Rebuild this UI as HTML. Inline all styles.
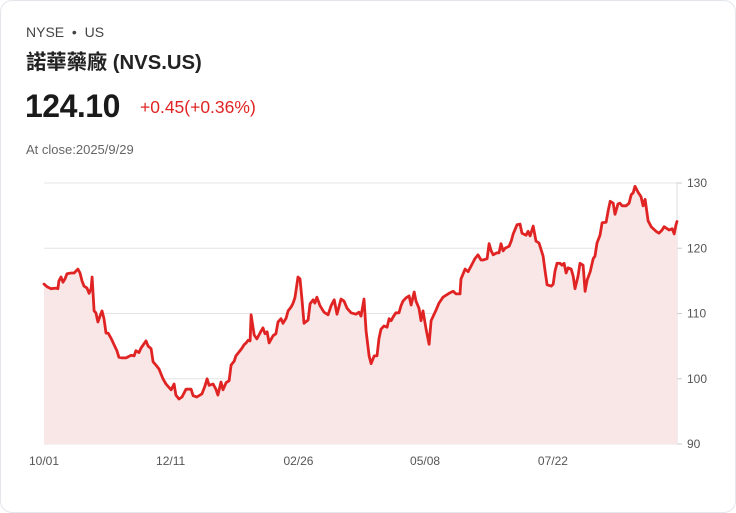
<!DOCTYPE html>
<html><head><meta charset="utf-8"><style>
body{margin:0;background:#fff;font-family:"Liberation Sans","Noto Sans CJK TC",sans-serif;}
.card{position:absolute;left:0;top:0;width:734px;height:511px;border:1px solid #e3e6ea;border-radius:12px;background:#fff;}
.t{position:absolute;white-space:nowrap;}
</style></head><body>
<div class="card">
<div class="t" style="left:25px;top:23px;font-size:14px;color:#444;">NYSE &nbsp;•&nbsp; US</div>
<div class="t" style="left:25px;top:44px;font-size:20.3px;font-weight:bold;color:#222;">諾華藥廠 (NVS.US)</div>
<div class="t" style="left:24px;top:87px;font-size:32px;font-weight:bold;color:#1a1a1a;letter-spacing:-0.5px;">124.10</div>
<div class="t" style="left:139px;top:96px;font-size:17.5px;color:#e02424;">+0.45(+0.36%)</div>
<div class="t" style="left:25px;top:141px;font-size:13px;color:#666;">At close:2025/9/29</div>
<svg id="chart" width="736" height="513" style="position:absolute;left:-1px;top:-1px;"></svg>
</div>
<script>
const days=[0,1.2,2.8,4.7,5.5,5.9,6.7,7.5,8.3,9.1,10.7,11.9,12.6,13.4,14.2,15.0,15.8,17.0,17.8,18.6,19.0,19.8,20.5,21.3,22.1,22.9,23.7,24.5,25.3,26.5,27.7,28.8,29.6,30.8,32.4,34.4,35.6,36.3,37.5,38.3,40.3,41.1,42.3,43.1,44.2,45.4,47.0,48.2,50.2,51.4,52.1,53.3,54.5,56.1,58.1,58.9,60.4,62.4,63.6,64.4,65.2,66.8,67.9,68.7,69.9,70.7,71.9,73.1,73.9,75.1,75.8,77.0,78.2,79.0,79.8,80.6,81.4,81.8,83.0,84.1,85.7,86.5,87.3,88.1,88.9,90.5,91.6,92.4,93.6,94.4,95.6,96.4,97.6,98.4,99.1,99.5,100.3,101.1,101.9,102.7,104.3,105.1,106.3,107.0,107.8,109.0,110.6,112.2,113.4,114.6,115.7,117.3,118.5,119.7,121.3,123.2,124.4,125.2,126.4,127.2,128.4,129.2,130.4,131.5,132.3,133.1,134.3,135.5,136.3,137.1,137.9,139.0,140.2,141.0,141.8,143.0,144.2,145.0,146.2,146.9,148.1,148.9,149.7,150.9,152.1,152.9,154.8,156.0,157.6,158.8,160.0,161.6,162.7,164.3,164.7,166.3,167.5,169.5,170.2,171.4,172.6,173.4,175.0,175.8,176.6,177.4,178.9,179.7,180.5,181.3,182.1,183.7,184.5,185.3,186.8,188.0,188.8,190.4,191.2,192.0,193.2,194.3,195.5,197.1,197.9,198.7,200.3,201.1,201.8,202.6,203.8,204.6,205.4,206.2,207.0,208.2,209.0,209.7,210.9,211.7,212.9,213.7,214.5,215.7,216.9,217.6,218.4,219.6,220.4,222.0,222.8,223.6,224.8,225.5,226.7,227.5,228.3,229.9,231.1,231.9,232.7,233.4,234.6,235.8,236.6,237.4,238.6,239.8,241.7,242.9,244.1,244.9,246.1,246.9,248.1,248.9,249.6,250.0];
const prices=[114.5,114.1,113.8,113.9,113.8,115.0,115.6,114.8,115.3,116.1,116.2,116.2,116.5,116.8,116.2,115.0,114.2,113.9,113.1,113.8,115.6,110.4,110.1,108.7,109.6,110.4,109.2,107.0,107.0,106.2,105.2,104.3,103.3,103.2,103.2,103.6,103.5,104.3,104.0,104.7,105.8,105.0,104.6,102.6,102.1,101.5,100.0,99.2,98.3,99.2,97.5,96.9,97.2,98.4,98.4,97.4,97.2,97.7,98.9,100.0,99.0,99.2,98.4,97.5,99.5,98.3,99.4,99.7,102.1,102.7,103.5,104.1,104.7,105.2,105.5,105.9,105.8,109.8,106.7,106.1,107.3,107.8,106.9,107.2,105.5,106.6,106.9,108.7,109.2,108.5,109.3,110.4,111.0,111.6,112.4,113.4,115.6,115.3,112.1,108.5,109.0,111.5,112.1,111.6,112.5,111.2,110.2,109.8,111.2,112.1,109.9,112.2,111.9,110.8,110.1,109.9,110.2,109.6,112.2,107.3,103.5,102.3,103.5,103.5,106.2,107.6,108.1,107.9,109.2,108.9,109.5,110.1,110.1,111.2,111.9,112.4,112.7,111.3,113.3,111.9,110.8,108.9,110.4,107.6,105.3,108.9,110.5,111.6,112.5,112.8,113.1,113.4,113.0,113.0,115.3,116.8,116.4,117.9,118.4,119.0,118.2,118.2,118.4,120.7,119.6,119.0,119.3,119.3,120.7,119.6,120.0,120.3,121.1,122.2,123.6,123.7,122.3,122.0,122.6,121.9,123.4,121.1,120.8,118.8,116.5,114.4,114.2,114.5,116.5,117.7,117.7,117.4,117.7,116.2,117.0,116.8,115.7,113.8,115.7,117.7,117.4,113.4,115.1,116.4,118.4,118.8,120.8,122.0,123.9,124.0,125.7,127.2,126.9,125.2,126.8,126.9,126.5,126.5,126.9,128.2,128.5,129.5,128.6,127.9,126.5,127.5,124.2,123.3,122.6,122.3,122.8,123.3,123.0,122.8,123.0,122.2,123.6,124.1];
const yTicks=[130,120,110,100,90];
const xTickLabels=["10/01","12/11","02/26","05/08","07/22"];
const xTickDays=[0,50,100.5,150.5,201];

const svg=document.getElementById('chart');
const NS='http://www.w3.org/2000/svg';
const X0=44,X1=677,Y0=444,Y1=183,YMIN=90,YMAX=130,DMAX=250;
const xs=d=>X0+(d/DMAX)*(X1-X0);
const ys=v=>Y0-(v-YMIN)/(YMAX-YMIN)*(Y0-Y1);
function mk(tag,attrs){const e=document.createElementNS(NS,tag);for(const k in attrs)e.setAttribute(k,attrs[k]);svg.appendChild(e);return e;}
yTicks.forEach(v=>{
  const g=mk('line',{x1:X0,x2:X1,y1:ys(v),y2:ys(v),stroke:'#e4e4e4','stroke-width':1});
  
  
  const tk=mk('line',{x1:X1,x2:X1+5,y1:ys(v),y2:ys(v),stroke:'#ccc','stroke-width':1});
  
  
  const t=mk('text',{x:X1+10,y:ys(v)+4,'font-size':12,fill:'#555','font-family':'Liberation Sans, sans-serif'});
  t.textContent=v;
  
  
});
const ax=mk('line',{x1:X1,x2:X1,y1:Y1,y2:Y0,stroke:'#ddd','stroke-width':1});


let pts=days.map((d,i)=>xs(d).toFixed(1)+','+ys(prices[i]).toFixed(1));
const area=mk('path',{d:'M'+xs(days[0])+','+Y0+' L'+pts.join(' L')+' L'+xs(days[days.length-1])+','+Y0+' Z',fill:'#f9e6e6'});


const line=mk('path',{d:'M'+pts.join(' L'),fill:'none',stroke:'#e02424','stroke-width':2.8,'stroke-linejoin':'round','stroke-linecap':'round'});


xTickLabels.forEach((l,i)=>{
  const t=mk('text',{x:xs(xTickDays[i]),y:465,'font-size':12,fill:'#555','text-anchor':'middle','font-family':'Liberation Sans, sans-serif'});
  t.textContent=l;
  
  
});
</script>
</body></html>
